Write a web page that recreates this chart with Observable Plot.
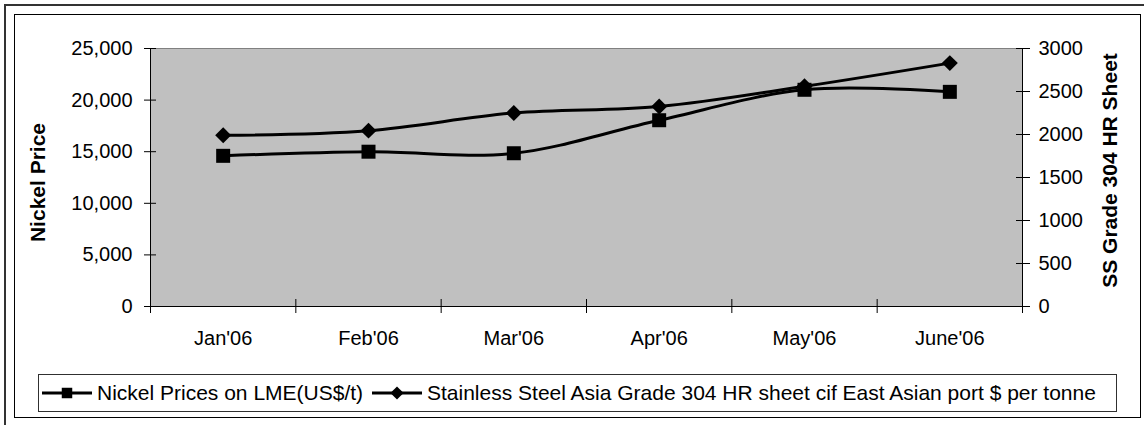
<!DOCTYPE html>
<html>
<head>
<meta charset="utf-8">
<script src="https://cdn.jsdelivr.net/npm/d3@7"></script>
<script src="https://cdn.jsdelivr.net/npm/@observablehq/plot@0.6"></script>
<style>
  html, body { margin: 0; padding: 0; background: #fff; }
  body { width: 1144px; height: 425px; overflow: hidden; position: relative; font-family: "Liberation Sans", Arial, sans-serif; }
  .abs { position: absolute; }
  #outer { left: 4px; top: 4px; width: 1300px; height: 600px; border-top: 2px solid #333; border-left: 2px solid #333; box-sizing: border-box; }
  #inner { left: 14px; top: 14px; width: 1127px; height: 404px; border: 1px solid #000; box-sizing: border-box; }
  #chart { left: 0; top: 0; }
  #legend { left: 38px; top: 374px; width: 1079px; height: 38px; border: 1px solid #303030; box-sizing: border-box; background: #fff; }
  .lt { font-size: 21px; line-height: 24px; top: 381px; white-space: nowrap; color: #000; }
</style>
</head>
<body>
<div id="outer" class="abs"></div>
<div id="inner" class="abs"></div>
<div id="chart" class="abs"></div>
<div id="legend" class="abs"></div>
<script>
const months = ["Jan'06", "Feb'06", "Mar'06", "Apr'06", "May'06", "June'06"];
const nickel = [14600, 15000, 14850, 18050, 21000, 20800];
const steel = [1990, 2045, 2250, 2325, 2560, 2830];
const nickelTicks = [0, 5000, 10000, 15000, 20000, 25000];
const steelTicks = [0, 500, 1000, 1500, 2000, 2500, 3000];
const seriesNames = ["Nickel Prices on LME(US$/t)", "Stainless Steel Asia Grade 304 HR sheet cif East Asian port $ per tonne"];
const axisTitles = ["Nickel Price", "SS Grade 304 HR Sheet"];

const factor = 25000 / 3000;
const rows = months.map((m, i) => ({i, m, nickel: nickel[i], steel: steel[i] * factor}));
const boundaries = d3.range(months.length + 1).map(k => k - 0.5);
const centers = d3.range(months.length);
const rightTicks = steelTicks.map(v => v * factor);

const plot = Plot.plot({
  width: 1144,
  height: 425,
  marginLeft: 150,
  marginRight: 122,
  marginTop: 48,
  marginBottom: 119,
  style: {fontFamily: "'Liberation Sans', Arial, sans-serif", fontSize: "20px", color: "#000", background: "transparent", overflow: "visible"},
  x: {domain: [-0.5, months.length - 0.5], axis: null},
  y: {domain: [0, 25000], axis: null},
  marks: [
    Plot.frame({fill: "#c0c0c0", stroke: "#808080"}),
    Plot.ruleY([0], {stroke: "#000"}),
    Plot.ruleX([boundaries[0], boundaries[boundaries.length - 1]], {stroke: "#000"}),
    Plot.axisX({ticks: boundaries, tickSize: 14, dy: -7, tickFormat: () => "", label: null, stroke: "#000"}),
    Plot.axisX({ticks: centers, tickSize: 0, tickPadding: 24, tickFormat: i => months[i], label: null, fontSize: 20}),
    Plot.axisY({ticks: nickelTicks, tickSize: 12, dx: 6, tickFormat: () => "", label: null, stroke: "#000"}),
    Plot.axisY({ticks: nickelTicks, tickSize: 0, tickPadding: 18, tickFormat: d3.format(","), label: null, fontSize: 20}),
    Plot.axisY({anchor: "right", ticks: rightTicks, tickSize: 14, dx: -7, tickFormat: () => "", label: null, stroke: "#000"}),
    Plot.axisY({anchor: "right", ticks: rightTicks, tickSize: 0, tickPadding: 16, tickFormat: v => String(Math.round(v / factor)), label: null, fontSize: 20}),
    Plot.line(rows, {x: "i", y: "nickel", curve: "cardinal", tension: 0, stroke: "#000", strokeWidth: 3}),
    Plot.line(rows, {x: "i", y: "steel", curve: "cardinal", tension: 0, stroke: "#000", strokeWidth: 3}),
    Plot.dot(rows, {x: "i", y: "steel", symbol: "diamond2", r: 7.2, fill: "#000", stroke: "none"}),
    Plot.dot(rows, {x: "i", y: "nickel", symbol: "square", r: 7.9, fill: "#000", stroke: "none"}),
    Plot.text([axisTitles[0]], {frameAnchor: "left", textAnchor: "middle", rotate: -90, dx: -112, dy: 5, fontWeight: "bold", fontSize: 21, fill: "#000"}),
    Plot.text([axisTitles[1]], {frameAnchor: "right", textAnchor: "middle", rotate: -90, dx: 88, dy: -7, fontWeight: "bold", fontSize: 21, fill: "#000"})
  ]
});
document.getElementById("chart").appendChild(plot);

// Legend
function swatch(left, symbol) {
  const ns = "http://www.w3.org/2000/svg";
  const svg = document.createElementNS(ns, "svg");
  svg.setAttribute("width", 50);
  svg.setAttribute("height", 20);
  svg.setAttribute("class", "abs");
  svg.style.left = left + "px";
  svg.style.top = "383px";
  const line = document.createElementNS(ns, "line");
  line.setAttribute("x1", 0); line.setAttribute("x2", 50);
  line.setAttribute("y1", 10); line.setAttribute("y2", 10);
  line.setAttribute("stroke", "#000"); line.setAttribute("stroke-width", 3);
  svg.appendChild(line);
  const p = document.createElementNS(ns, "path");
  p.setAttribute("d", d3.symbol(symbol === "square" ? d3.symbolSquare : d3.symbolDiamond2, 110)());
  p.setAttribute("transform", "translate(25,10)");
  p.setAttribute("fill", "#000");
  svg.appendChild(p);
  document.body.appendChild(svg);
}
function label(left, text) {
  const s = document.createElement("span");
  s.className = "abs lt";
  s.style.left = left + "px";
  s.textContent = text;
  document.body.appendChild(s);
}
swatch(42, "square");
label(97, seriesNames[0]);
swatch(372, "diamond");
label(427, seriesNames[1]);
</script>
</body>
</html>
